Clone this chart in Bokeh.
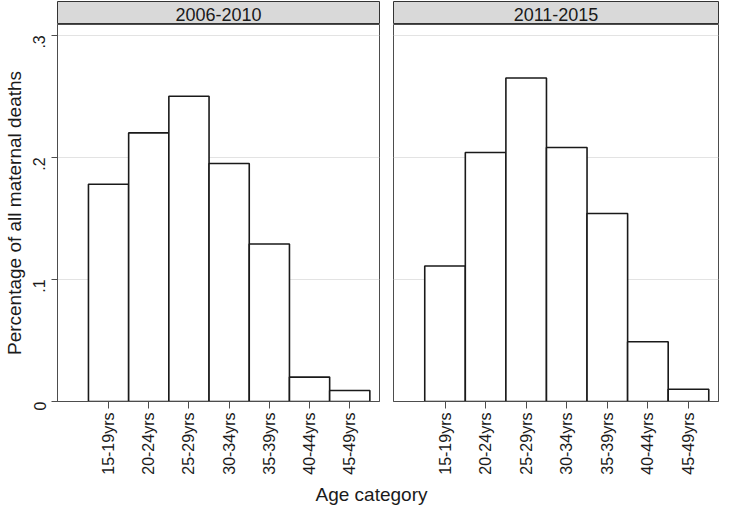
import math
from bokeh.plotting import figure
from bokeh.layouts import column, row
from bokeh.models import Range1d, FixedTicker, CustomJSTickFormatter, Label
from bokeh.embed import file_html
from bokeh.resources import INLINE

# ---- data ----
age_categories = ["15-19yrs", "20-24yrs", "25-29yrs", "30-34yrs", "35-39yrs", "40-44yrs", "45-49yrs"]
share_2006_2010 = [0.178, 0.220, 0.250, 0.195, 0.129, 0.020, 0.009]
share_2011_2015 = [0.111, 0.204, 0.265, 0.208, 0.154, 0.049, 0.010]
panel_titles = ["2006-2010", "2011-2015"]
y_ticks = [0, 0.1, 0.2, 0.3]
y_title = "Percentage of all maternal deaths"
x_title = "Age category"

FONT = "Liberation Sans"
DARK = "#4d4d4d"
positions = list(range(1, len(age_categories) + 1))


def strip(title, width, left, right):
    s = figure(width=width, height=24, toolbar_location=None, output_backend="svg",
               x_range=Range1d(0, 1), y_range=Range1d(0, 1),
               min_border_left=left, min_border_right=right,
               min_border_top=1, min_border_bottom=0)
    s.axis.visible = False
    s.grid.visible = False
    s.background_fill_color = "#d9d9d9"
    s.border_fill_color = "white"
    s.outline_line_color = "#333333"
    s.outline_line_width = 1
    s.add_layout(Label(x=0.5, y=0.45, text=title, text_align="center", text_baseline="middle",
                       text_font=FONT, text_font_size="18px", text_color="#1a1a1a"))
    return s


def panel(values, width, left, right, show_y):
    p = figure(width=width, height=453, toolbar_location=None, output_backend="svg",
               x_range=Range1d(-0.27, 7.74), y_range=Range1d(0, 0.3088),
               min_border_left=left, min_border_right=right,
               min_border_top=0, min_border_bottom=75)
    p.vbar(x=positions, top=values, width=1.0, fill_color="white",
           line_color="#1a1a1a", line_width=1.6)
    p.background_fill_color = "white"
    p.border_fill_color = "white"
    p.outline_line_color = DARK
    p.outline_line_width = 1
    p.xgrid.visible = False
    p.ygrid.ticker = FixedTicker(ticks=y_ticks)
    p.ygrid.grid_line_color = "#e3e3e3"
    p.ygrid.grid_line_width = 1

    xa = p.xaxis[0]
    xa.ticker = FixedTicker(ticks=positions)
    xa.major_label_overrides = {pos: lab for pos, lab in zip(positions, age_categories)}
    xa.major_label_orientation = math.pi / 2
    xa.major_label_text_font = FONT
    xa.major_label_text_font_size = "16px"
    xa.major_label_text_color = "#1a1a1a"
    xa.major_label_standoff = 4
    xa.major_tick_out = 7
    xa.major_tick_in = 0
    xa.minor_tick_out = 0
    xa.minor_tick_in = 0
    xa.axis_line_color = DARK
    xa.major_tick_line_color = DARK

    ya = p.yaxis[0]
    if show_y:
        ya.ticker = FixedTicker(ticks=y_ticks)
        ya.formatter = CustomJSTickFormatter(
            code="return tick == 0 ? '0' : tick.toFixed(1).replace(/^0/, '');")
        ya.major_label_orientation = math.pi / 2
        ya.major_label_text_font = FONT
        ya.major_label_text_font_size = "16px"
        ya.major_label_text_color = "#1a1a1a"
        ya.major_label_standoff = 12
        ya.major_tick_out = 6
        ya.major_tick_in = 0
        ya.minor_tick_out = 0
        ya.minor_tick_in = 0
        ya.axis_line_color = DARK
        ya.major_tick_line_color = DARK
        ya.axis_label = y_title
        ya.axis_label_text_font = FONT
        ya.axis_label_text_font_size = "19px"
        ya.axis_label_text_font_style = "normal"
        ya.axis_label_text_color = "#1a1a1a"
        ya.axis_label_standoff = 0
    else:
        ya.visible = False
    return p


LW, RW = 381, 338
s1 = strip(panel_titles[0], LW, 53, 2)
s2 = strip(panel_titles[1], RW, 12, 1)
p1 = panel(share_2006_2010, LW, 53, 2, True)
p2 = panel(share_2011_2015, RW, 12, 1, False)

TOTAL_W = LW + RW
lab = figure(width=TOTAL_W, height=31, toolbar_location=None, output_backend="svg",
             x_range=Range1d(0, TOTAL_W), y_range=Range1d(0, 1),
             min_border_left=0, min_border_right=0, min_border_top=0, min_border_bottom=0)
lab.axis.visible = False
lab.grid.visible = False
lab.outline_line_color = None
lab.add_layout(Label(x=371, y=0.45, text=x_title,
                     text_align="center", text_baseline="middle",
                     text_font=FONT, text_font_size="19px", text_color="#1a1a1a"))

layout = column(row(column(s1, p1), column(s2, p2)), lab)

open("out.html", "w").write(file_html(layout, INLINE))
